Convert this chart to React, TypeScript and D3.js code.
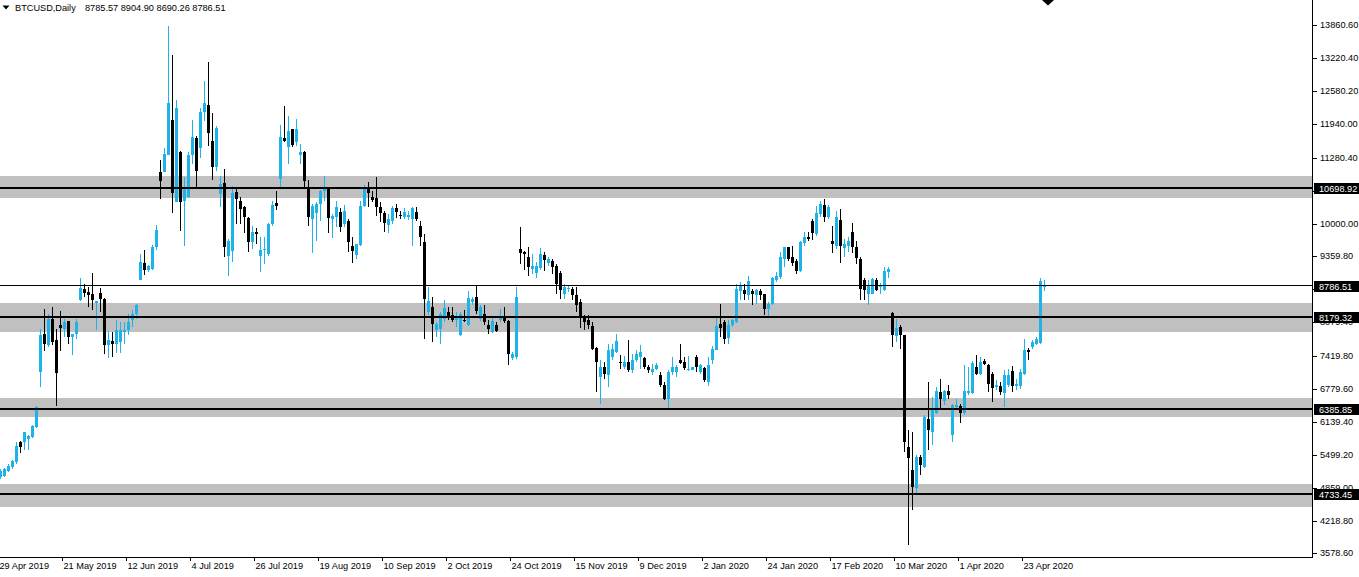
import React from "react";
import * as d3 from "d3";

// ---- data (weekday daily bars, BTCUSD) ----
const opens = [5058,5091,5188,5253,5350,5754,5741,5806,5838,6033,7106,7854,7627,8134,7724,8017,7952,8095,7789,7841,8504,8719,8667,8621,8452,8654,8524,7627,7705,7659,7692,7887,7919,8114,8244,8908,9233,9090,9122,9545,11008,11008,11333,12016,10423,11385,10446,10524,11340,11664,11463,12163,12312,11599,11094,10576,10783,9378,9475,10608,10446,10317,10103,9637,9844,9378,9494,9410,9993,10401,10867,11664,11495,11839,11580,11340,11385,10705,10090,10200,10381,10641,10692,10090,10122,10233,9993,10058,9559,9391,9585,10349,10686,10524,10498,10330,10207,9980,10045,10297,10170,10135,10122,10090,10220,9961,9650,8277,8374,7920,7953,8134,8277,8212,8115,7823,8120,8017,8471,8568,8134,8244,8030,7888,8017,8115,8179,8095,7383,7402,9507,9442,9345,9119,9034,9138,9397,9229,9267,9183,9034,8633,8730,8730,8600,8471,8179,8115,8000,7584,7013,7208,7046,7402,7499,7305,7208,7305,7143,7337,7402,7389,7208,7110,7175,7046,6851,6592,7110,7110,7350,7305,7143,7156,7402,7110,7195,6916,7337,7545,8050,8082,7778,8017,8082,8697,8710,8600,8697,8600,8697,8620,8341,8438,8892,8969,9313,9540,9345,9281,9073,9617,9734,10058,9799,10187,10369,10122,9656,9572,10077,9527,9572,9844,9553,9313,8892,8633,8633,8892,8762,8710,9054,8250,7810,7985,7823,5653,5200,4844,5459,5265,6204,5945,6320,6722,6540,6735,5893,6431,6450,6320,6709,6709,7208,7078,7318,7253,7078,6819,6839,6709,6852,7124,6839,6839,7078,7532,7597,7661,7681,8785.57];
const highs = [5230,5250,5310,5400,5741,5760,5950,5880,6080,6440,7952,8342,8244,8374,7952,8296,8147,8110,7854,8147,8940,8830,8765,9044,8500,8745,8557,7906,7886,8114,8082,8082,8244,8309,8440,9415,9480,9187,9577,9968,11236,11463,13850,13284,12406,11418,10900,11385,12014,11709,12247,12778,13147,12150,11904,10932,11062,9700,10738,10705,10511,10349,10120,9961,9908,9734,9734,10012,10433,10641,11923,12292,12098,11850,12033,11547,11418,10848,10381,10414,10654,10932,10705,10187,10446,10304,10369,10090,9734,9610,10446,10751,10815,10641,10900,10427,10252,10187,10349,10381,10252,10297,10252,10317,10317,10058,9799,8762,8568,8082,8277,8503,8374,8374,8277,8277,8309,8678,8568,8807,8419,8406,8115,8179,8082,8328,8374,8115,7500,8762,9928,9475,9540,9410,9248,9527,9442,9345,9313,9216,9086,8827,8795,8775,8762,8535,8212,8212,8082,7597,7350,7305,7661,7661,7856,7435,7415,7726,7467,7532,7629,7402,7240,7272,7285,7110,6916,7143,7402,7240,7661,7402,7415,7215,7435,7272,7208,7402,7610,8179,8438,8115,8115,8147,8827,8859,8827,8989,8730,8730,8730,8633,8471,8957,9054,9442,9553,9553,9572,9313,9669,9831,9831,10090,10349,10446,10479,10369,9960,10252,10284,9701,9734,10006,9669,9345,8944,8892,8944,8944,8840,9151,9164,8277,8147,8017,7830,5977,5945,5492,5492,6269,6916,6625,6819,6968,6754,6851,6495,6592,6495,7240,7208,7318,7447,7402,7370,7272,7111,6949,6916,7143,7175,7227,6981,7162,7745,7577,7726,7791,8937,8904.90];
const lows = [5030,5060,5170,5230,5318,5526,5591,5591,5830,6020,6814,7529,7594,7627,6456,7516,7789,7646,7432,7757,8485,8569,8374,8322,7919,8277,7464,7386,7412,7477,7477,7659,7822,7984,8147,8895,8992,9057,9090,9480,10488,11008,11333,10208,10423,9863,9572,10500,11159,10705,11275,12001,11515,10854,11029,10317,9345,8989,9248,9993,9993,9812,9443,9507,9604,9054,9216,9378,9961,10271,10705,11580,11159,11483,11515,11159,10705,9947,9423,9656,10057,10446,9812,9721,9941,9844,9928,9443,9235,9313,9572,10317,10317,10427,10155,10025,9831,9818,9993,10103,10090,10090,10077,9572,10058,9572,7745,8212,7694,7791,7661,8082,8115,8082,7985,7810,8082,8004,8406,8244,8095,8030,7856,7875,7888,8082,8069,7240,7337,7370,9216,9100,8989,9021,8943,9099,9086,9183,9021,8620,8523,8536,8665,8503,8277,7972,7920,7953,7532,6722,6495,6981,6819,7350,7480,7175,7175,7110,7091,7305,7175,7175,7091,7046,7143,6819,6560,6366,7046,7014,7272,7156,7130,7143,7110,7078,6916,6832,7272,7532,7791,7661,7648,7985,8062,8503,8503,8503,8406,8438,8503,8212,8179,8406,8859,8924,9151,9281,9183,9021,9054,9572,9656,9682,9766,10122,10025,10090,9423,9507,9229,9358,9442,9423,9216,8503,8503,8406,8620,8697,8633,8697,8944,7597,7694,7564,5556,3743,4423,4746,5103,5232,5589,5686,6301,6398,6463,6592,5750,6398,6126,6282,6657,6690,7046,7046,7240,6722,6528,6754,6657,6431,6819,6722,6754,6787,7059,7337,7564,7629,7661,8690.26];
const closes = [5188,5221,5286,5383,5676,5656,5936,5871,6066,6424,7822,7659,8147,7692,7087,7971,8082,7789,7854,8082,8745,8654,8602,8504,8485,8537,7627,7724,7659,7919,7919,7919,8082,8244,8420,9252,9103,9168,9545,9883,10833,11346,12341,10598,12244,10414,10718,11340,11690,11016,12175,12357,11754,11094,11858,10770,9540,9669,10589,10479,10284,10122,9637,9844,9799,9494,9500,9993,10369,10349,11690,11599,11806,11534,11839,11385,10835,10122,10349,10381,10641,10705,10109,10155,10317,9928,10252,9637,9475,9604,10349,10686,10595,10459,10317,10207,10012,10090,10304,10220,10160,10220,10168,10304,10090,9734,8536,8500,8050,8050,8244,8354,8179,8115,8179,8244,8115,8548,8535,8289,8374,8082,7953,8095,7901,8179,8095,7467,7467,8568,9429,9410,9151,9183,9183,9410,9293,9313,9164,8827,8710,8762,8740,8600,8406,8179,8082,8017,7564,7305,7208,7078,7532,7564,7713,7300,7305,7143,7337,7467,7499,7208,7143,7175,7240,6851,6592,7110,7208,7208,7285,7195,7175,7208,7208,7240,6949,7240,7564,7997,7972,7758,8017,8115,8730,8795,8633,8879,8620,8710,8600,8341,8438,8944,8989,9358,9540,9313,9229,9086,9637,9734,9701,9812,10200,10381,10135,10317,9604,10122,9572,9604,9669,9553,9332,8730,8710,8795,8924,8710,8814,9086,9119,7830,7966,7823,5738,5427,4876,5459,5297,6236,5977,6398,6735,6580,6735,6657,6463,6476,6320,6735,6748,7292,7078,7305,7272,6884,6800,6864,6722,7046,7059,6839,6884,7111,7532,7499,7694,7758,8880,8786.51];

const dateTickBars = [0,16,32,48,64,80,96,112,128,144,160,176,192,208,224,240,256];
const dateTickLabels = ["29 Apr 2019","21 May 2019","12 Jun 2019","4 Jul 2019","26 Jul 2019","19 Aug 2019","10 Sep 2019","2 Oct 2019","24 Oct 2019","15 Nov 2019","9 Dec 2019","2 Jan 2020","24 Jan 2020","17 Feb 2020","10 Mar 2020","1 Apr 2020","23 Apr 2020"];
const priceTicks = [13860.60,13220.40,12580.20,11940.00,11280.40,10640.20,10000.00,9359.80,8719.60,8079.40,7419.80,6779.60,6139.40,5499.20,4859.00,4218.80,3578.60];

const zoneLows = [10500, 7895, 6240, 4490];
const zoneHighs = [10925, 8450, 6600, 4930];
const levelLines = [10698.92, 8179.32, 6385.85, 4733.45];
const bidPrice = 8786.51;
const headerSymbol = "BTCUSD,Daily";
const headerValues = "8785.57 8904.90 8690.26 8786.51";

const W = 1359;
const H = 577;
const PLOT_R = 1312;
const AXIS_Y = 557;
const BULL = "#1db2e8";
const BEAR = "#000000";
const ZONE = "#c0c0c0";
const FONT = "'Liberation Sans', Arial, sans-serif";

export default function App() {
  const n = closes.length;
  const x = d3.scaleLinear().domain([0, n - 1]).range([0.5, 4 * (n - 1) + 0.5]);
  const y = d3.scaleLinear().domain([3578.6, 13860.6]).range([553.4, 25.3]);

  const candles = d3.range(n).map((i) => {
    const o = opens[i], c = closes[i], h = highs[i], l = lows[i];
    const bull = c >= o;
    const col = bull ? BULL : BEAR;
    const cx = x(i);
    const yTop = y(Math.max(o, c));
    const yBot = y(Math.min(o, c));
    const bh = Math.max(1, yBot - yTop);
    return (
      <g key={i}>
        <line x1={cx} x2={cx} y1={y(h)} y2={y(l)} stroke={col} strokeWidth={1} />
        <rect x={cx - 1.5} y={yTop} width={3} height={bh} fill={col} />
      </g>
    );
  });

  const boxLabels = [...levelLines, bidPrice];

  return (
    <svg
      width={W}
      height={H}
      viewBox={`0 0 ${W} ${H}`}
      style={{ position: "absolute", left: 0, top: 0, display: "block", background: "#fff" }}
      shapeRendering="crispEdges"
    >
      <rect x={0} y={0} width={W} height={H} fill="#ffffff" />
      {/* zones */}
      {zoneLows.map((lo, i) => (
        <rect key={"z" + i} x={0} y={y(zoneHighs[i])} width={PLOT_R} height={y(lo) - y(zoneHighs[i])} fill={ZONE} />
      ))}
      {/* candles */}
      {candles}
      {/* level lines */}
      {levelLines.map((v, i) => (
        <line key={"l" + i} x1={0} x2={PLOT_R} y1={y(v)} y2={y(v)} stroke="#000" strokeWidth={2} />
      ))}
      <line x1={0} x2={PLOT_R} y1={y(bidPrice)} y2={y(bidPrice)} stroke="#000" strokeWidth={1} />

      {/* axes */}
      <rect x={PLOT_R + 1} y={0} width={W - PLOT_R} height={H} fill="#fff" />
      <line x1={PLOT_R + 0.5} x2={PLOT_R + 0.5} y1={0} y2={AXIS_Y + 0.5} stroke="#000" strokeWidth={1} />
      <line x1={0} x2={PLOT_R + 0.5} y1={AXIS_Y + 0.5} y2={AXIS_Y + 0.5} stroke="#000" strokeWidth={1} />

      {priceTicks.map((v, i) => (
        <g key={"pt" + i}>
          <line x1={PLOT_R} x2={PLOT_R + 5} y1={Math.round(y(v)) + 0.5} y2={Math.round(y(v)) + 0.5} stroke="#000" strokeWidth={1} />
          <text x={PLOT_R + 8} y={y(v)} dominantBaseline="central" fontFamily={FONT} fontSize={9.2} fill="#000" shapeRendering="auto">
            {v.toFixed(2)}
          </text>
        </g>
      ))}

      {dateTickBars.map((b, i) => (
        <g key={"dt" + i}>
          <line x1={x(b) - 2.5} x2={x(b) - 2.5} y1={AXIS_Y} y2={AXIS_Y + 4} stroke="#000" strokeWidth={1} />
          <text x={x(b) - 1} y={566} dominantBaseline="central" fontFamily={FONT} fontSize={9.2} fill="#000">
            {dateTickLabels[i]}
          </text>
        </g>
      ))}

      {/* price label boxes */}
      {boxLabels.map((v, i) => (
        <g key={"bx" + i}>
          <rect x={PLOT_R + 2} y={Math.round(y(v)) - 5} width={W - PLOT_R - 2} height={11} fill="#000" />
          <text x={PLOT_R + 7} y={Math.round(y(v)) + 0.5} dominantBaseline="central" fontFamily={FONT} fontSize={9.2} fill="#fff">
            {v.toFixed(2)}
          </text>
        </g>
      ))}

      {/* header */}
      <polygon points="2.5,5.5 9.5,5.5 6,9.5" fill="#000" shapeRendering="auto" />
      <text x={15} y={7.5} dominantBaseline="central" fontFamily={FONT} fontSize={9.2} fill="#000">
        {headerSymbol}
      </text>
      <text x={85} y={7.5} dominantBaseline="central" fontFamily={FONT} fontSize={9.2} fill="#000">
        {headerValues}
      </text>
      {/* chart shift marker */}
      <polygon points="1042,0 1054,0 1048,5.5" fill="#000" shapeRendering="auto" />
    </svg>
  );
}
